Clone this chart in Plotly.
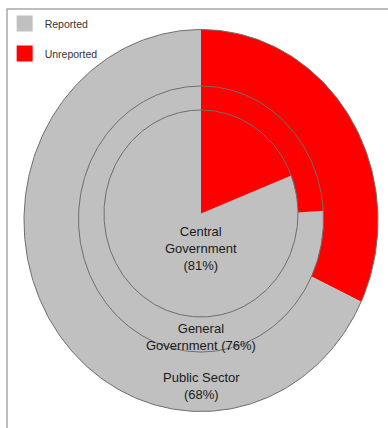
import numpy as np
import plotly.graph_objects as go

# Reporting coverage by level of government (percent of total)
levels = ["Public Sector", "General Government", "Central Government"]
reported = [68, 76, 81]
unreported = [32, 24, 19]
series = ["Reported", "Unreported"]
label_templates = [
    "Public Sector<br>({}%)",
    "General<br>Government ({}%)",
    "Central<br>Government<br>({}%)",
]

# Drawing geometry (pixel-space axes), outermost ring first
ring_geom = [
    dict(cx=201, cy=220.5, rx=177, ry=191),
    dict(cx=201, cy=219.0, rx=122.5, ry=133),
    dict(cx=201, cy=213.5, rx=97, ry=103.5),
]
label_y = [385.5, 336.5, 248]
colors = {"Reported": "#c0c0c0", "Unreported": "#ff0000"}
W, H = 388, 428


def sector(g, f0, f1, n=240):
    """Filled elliptical sector from fraction f0 to f1, clockwise from 12 o'clock."""
    t = np.linspace(f0, f1, max(int(n * (f1 - f0)), 8)) * 2 * np.pi
    xs = np.concatenate([[g["cx"]], g["cx"] + g["rx"] * np.sin(t), [g["cx"]]])
    ys = np.concatenate([[g["cy"]], g["cy"] - g["ry"] * np.cos(t), [g["cy"]]])
    return xs, ys


fig = go.Figure()

for lvl, rep, unr, g in zip(levels, reported, unreported, ring_geom):
    total = rep + unr
    f_red = unr / total
    # unreported share runs clockwise from the top, reported fills the rest
    for name, f0, f1 in [("Unreported", 0, f_red), ("Reported", f_red, 1)]:
        xs, ys = sector(g, f0, f1)
        fig.add_trace(go.Scatter(
            x=xs, y=ys, mode="lines", fill="toself",
            fillcolor=colors[name], line=dict(width=0, color=colors[name]),
            hoverinfo="text", text=f"{lvl}: {name} {rep if name == 'Reported' else unr}%",
            showlegend=False,
        ))
    # ring outline
    xs, ys = sector(g, 0, 1, n=400)
    fig.add_trace(go.Scatter(
        x=xs[1:-1], y=ys[1:-1], mode="lines",
        line=dict(width=1, color="#6e6e6e"),
        hoverinfo="skip", showlegend=False,
    ))

for i, name in enumerate(series):
    fig.add_trace(go.Scatter(
        x=[None], y=[None], mode="markers", name=name,
        legendgroup=name,
        marker=dict(symbol="square", size=16, color=colors[name]),
    ))

for tpl, rep, y, g in zip(label_templates, reported, label_y, ring_geom):
    fig.add_annotation(
        x=g["cx"], y=y, text=tpl.format(rep), showarrow=False,
        font=dict(family="Liberation Sans, Arial, sans-serif", size=13, color="#1a1a1a"),
        align="center", xanchor="center", yanchor="middle",
    )

# chart frame
fig.add_shape(
    type="rect", xref="paper", yref="paper",
    x0=7 / W, x1=1.05, y0=-0.05, y1=1 - 9 / H,
    line=dict(color="#a8a8a8", width=1.5), fillcolor="rgba(0,0,0,0)",
    layer="below",
)

fig.update_layout(
    width=W, height=H,
    margin=dict(l=0, r=0, t=0, b=0),
    paper_bgcolor="white", plot_bgcolor="white",
    xaxis=dict(range=[0, W], visible=False, fixedrange=True),
    yaxis=dict(range=[H, 0], visible=False, fixedrange=True),
    showlegend=True,
    legend=dict(
        x=0.012, y=0.979, xanchor="left", yanchor="top",
        font=dict(family="Liberation Sans, Arial, sans-serif", size=10.5, color="#333333"),
        bgcolor="rgba(0,0,0,0)", tracegroupgap=11, itemwidth=30,
    ),
)

fig.write_html("out.html")
